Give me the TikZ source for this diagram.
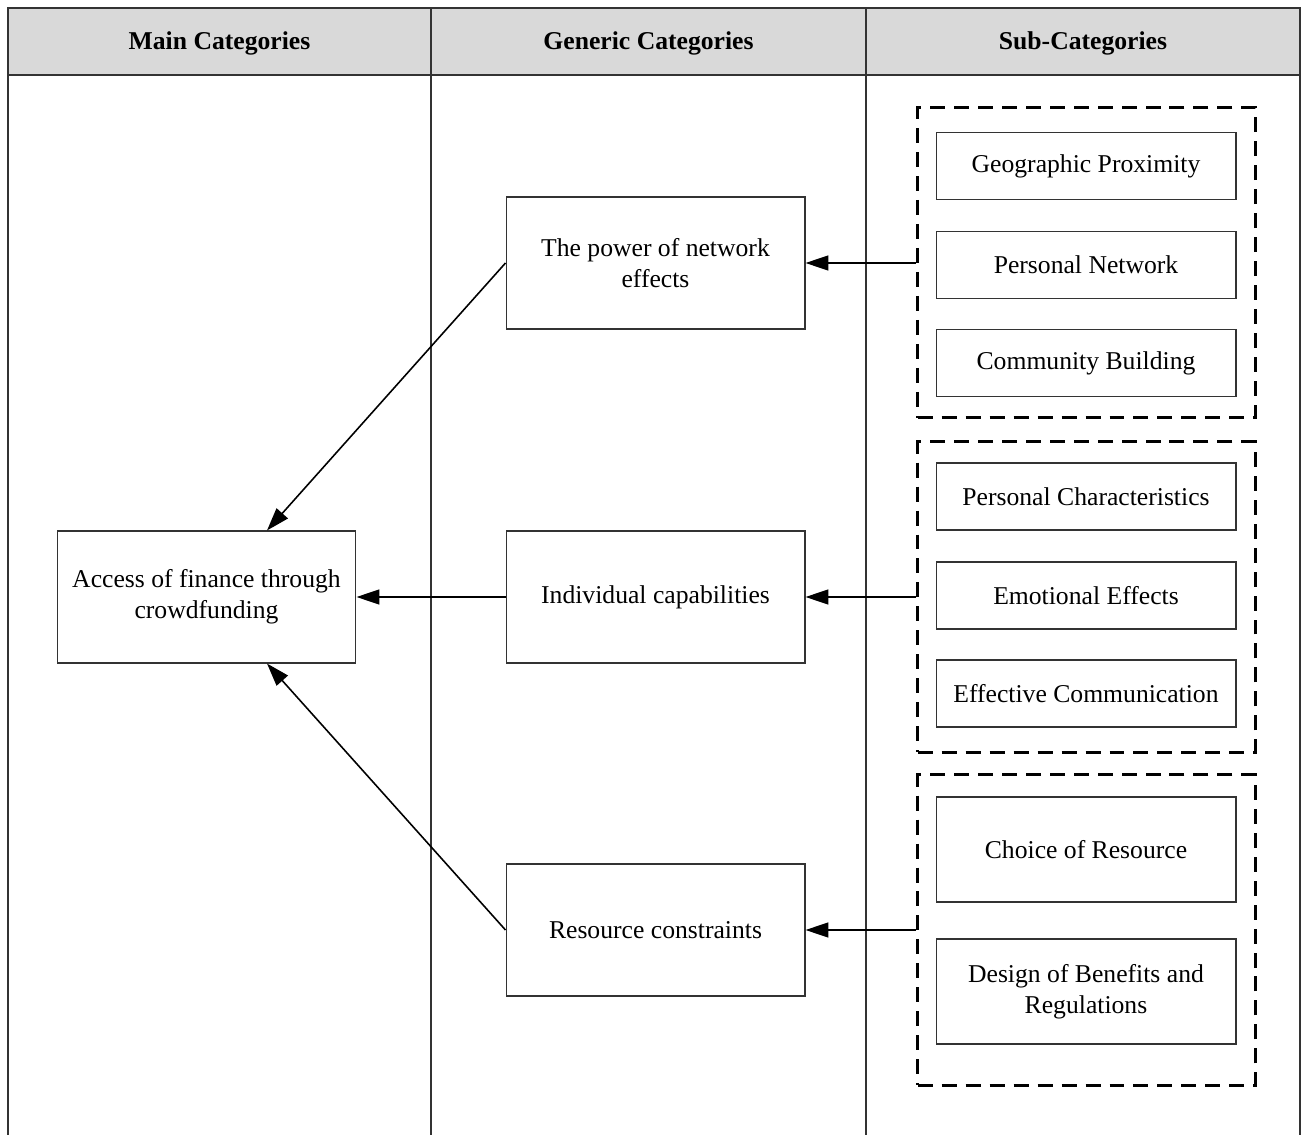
\documentclass[tikz,border=0pt]{standalone}
\usepackage{fontspec}
\setmainfont{Liberation Serif}
\usetikzlibrary{arrows.meta}
\tikzset{
  catbox/.style = {draw=black!80, line width=0.6pt, fill=white, align=center,
    inner sep=2pt, minimum width=5.98cm, minimum height=2.64cm,
    font=\fontsize{14.6}{17.6}\selectfont},
  subbox/.style = {catbox, minimum width=6cm, minimum height=1.34cm},% sous-categorie
  tallbox/.style = {subbox, minimum height=2.1cm},
  groupbox/.style = {draw, line width=1.7pt, dash pattern=on 0.3cm off 0.18cm,
    minimum width=6.76cm, minimum height=6.22cm},% cadre pointille
  headtext/.style = {font=\fontsize{14.6}{17.6}\selectfont\bfseries},
  link/.style = {-{Triangle[length=0.46cm,width=0.3cm]}, line width=0.9pt}
}
\begin{document}
\begin{tikzpicture}[x=0.02cm,y=-0.02cm]
\useasboundingbox (0,0) rectangle (1303,1135);
% tableau
\fill[black!15] (8,8) rectangle (1300,75);
\draw[line width=0.6pt, black!80] (8,1135) -- (8,8) -- (1300,8) -- (1300,1135);
\draw[line width=0.6pt, black!80] (8,75) -- (1300,75);
\draw[line width=0.6pt, black!80] (431,8) -- (431,1135);
\draw[line width=0.6pt, black!80] (866,8) -- (866,1135);
\node [headtext] (hmain) at (219.5,43) {Main Categories};
\node [headtext] (hgen) at (648.5,43) {Generic Categories};
\node [headtext] (hsub) at (1083,43) {Sub-Categories};
% categories
\node [catbox] (access) at (206.5,597) {Access of finance through\\crowdfunding};
\node [catbox] (network) at (655.5,263) {The power of network\\effects};
\node [catbox] (individual) at (655.5,597) {Individual capabilities};
\node [catbox] (resource) at (655.5,930) {Resource constraints};
% sous-categories
\node [groupbox] (g1) at (1086.5,262.5) {};
\node [groupbox] (g2) at (1086.5,597) {};
\node [groupbox] (g3) at (1086.5,930) {};
\node [subbox] (geo) at (1086,166) {Geographic Proximity};
\node [subbox] (pers) at (1086,265) {Personal Network};
\node [subbox] (comm) at (1086,363) {Community Building};
\node [subbox] (charac) at (1086,496.5) {Personal Characteristics};
\node [subbox] (emo) at (1086,595.5) {Emotional Effects};
\node [subbox] (effcom) at (1086,693.5) {Effective Communication};
\node [tallbox] (choice) at (1086,849.5) {Choice of Resource};
\node [tallbox] (design) at (1086,991.5) {Design of Benefits and\\Regulations};
% fleches
\draw [link] (g1.west |- network.east) -- (network.east);
\draw [link] (g2.west |- individual.east) -- (individual.east);
\draw [link] (g3.west |- resource.east) -- (resource.east);
\draw [link] (individual.west) -- (access.east);
\draw [link] (network.west) -- ([xshift=1.21cm]access.north);
\draw [link] (resource.west) -- ([xshift=1.21cm]access.south);
\end{tikzpicture}
\end{document}
